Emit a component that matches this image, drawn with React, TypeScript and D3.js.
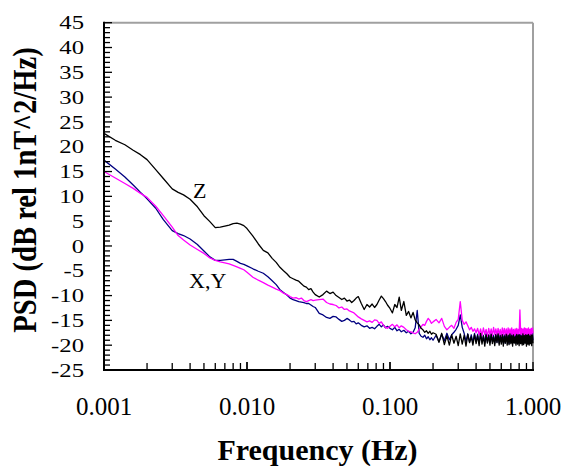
import React from "react";
import * as d3 from "d3";

const FREQ: number[] = [
  0.001, 0.0012, 0.0014, 0.0016, 0.0018, 0.002, 0.0023, 0.0026, 0.003, 0.0033, 0.0036, 0.004,
  0.0045, 0.005, 0.0055, 0.006, 0.0065, 0.007, 0.0075, 0.008, 0.0085, 0.009, 0.0095, 0.01,
  0.011, 0.012, 0.013, 0.014, 0.015, 0.016, 0.017, 0.018, 0.019, 0.02,
  0.021, 0.022, 0.023, 0.024, 0.025, 0.026, 0.027, 0.028, 0.029, 0.03, 0.032, 0.034, 0.036,
  0.038, 0.04, 0.042, 0.044, 0.046, 0.048, 0.05, 0.052, 0.054, 0.056, 0.058, 0.06, 0.063,
  0.066, 0.069, 0.072, 0.075, 0.078, 0.081, 0.084, 0.087, 0.09, 0.093, 0.096, 0.1, 0.104,
  0.108, 0.112, 0.116, 0.12, 0.125, 0.13, 0.135, 0.14, 0.145, 0.15, 0.155, 0.16, 0.165, 0.17,
  0.175, 0.18, 0.185, 0.19, 0.195, 0.2,
  0.21, 0.22, 0.23, 0.24, 0.25, 0.26, 0.27, 0.28, 0.29, 0.3, 0.31, 0.32, 0.33, 0.34, 0.35,
  0.36, 0.37, 0.38, 0.39, 0.4, 0.41, 0.42, 0.43, 0.44, 0.45, 0.46, 0.47, 0.48, 0.49, 0.5,
  0.51, 0.52, 0.53, 0.54, 0.55, 0.56, 0.57, 0.58, 0.59, 0.6, 0.61, 0.62, 0.63, 0.64, 0.65,
  0.66, 0.67, 0.68, 0.69, 0.7, 0.71, 0.72, 0.73, 0.74, 0.75, 0.76, 0.77, 0.78, 0.79, 0.8,
  0.81, 0.82, 0.83, 0.84, 0.85, 0.86, 0.87, 0.88, 0.89, 0.9, 0.91, 0.92, 0.93, 0.94, 0.95,
  0.96, 0.97, 0.98, 0.99, 1.0,
];

const Z_PSD: number[] = [
  22.7, 21.3, 20.4, 19.3, 18.4, 17.4, 15.4, 13.6, 11.5, 10.8, 10.3, 9.4,
  7.9, 6.1, 4.9, 3.7, 3.8, 4.0, 4.2, 4.5, 4.6, 4.4, 4.1, 3.5,
  2.0, 0.4, -0.9, -1.4, -2.5, -3.3, -4.3, -5.0, -5.6, -6.3,
  -6.6, -6.9, -7.1, -7.6, -8.1, -8.3, -8.8, -8.6, -9.3, -9.8, -10.3, -9.8, -9.1,
  -9.6, -9.3, -10.0, -10.4, -10.8, -10.5, -11.1, -10.9, -11.4, -11.0, -10.5, -10.2, -11.6,
  -12.8, -11.8, -12.3, -11.7, -12.4, -11.8, -10.9, -10.1, -10.6, -11.2, -11.9, -12.6, -13.5,
  -11.8, -12.4, -10.3, -13.0, -11.2, -14.0, -13.2, -14.5, -13.4, -14.9, -15.5, -15.9, -16.6, -16.9,
  -17.4, -17.1, -17.6, -17.2, -17.8, -17.5,
  -17.8, -19.4, -17.6, -19.9, -18.1, -20.0, -17.9, -19.6, -18.2, -20.1,
  -17.7, -19.8, -18.0, -20.2, -17.8, -19.5, -18.3, -20.0, -17.9, -19.7,
  -18.1, -20.1, -17.6, -19.8, -18.2, -20.2, -17.9, -19.6, -18.0, -20.0,
  -17.8, -19.7, -18.3, -20.1, -17.9, -19.5, -17.7, -20.0, -18.1, -19.8,
  -17.9, -20.2, -18.2, -19.6, -17.8, -20.0, -18.0, -19.9, -17.7, -19.7,
  -18.1, -20.2, -17.9, -19.6, -18.3, -20.0, -17.8, -19.8, -18.0, -20.1,
  -17.9, -19.7, -18.2, -20.0, -17.7, -19.9, -18.1, -19.6, -17.9, -20.2,
  -18.0, -19.8, -17.8, -20.0, -18.2, -19.7, -17.9, -20.1, -18.0, -19.6,
];

const X_PSD: number[] = [
  17.3, 15.5, 13.9, 12.3, 10.8, 9.5, 7.6, 5.3, 3.1, 2.5, 2.1, 1.4,
  0.3, -1.0, -2.2, -2.9, -2.9, -2.8, -2.7, -2.7, -3.1, -3.5, -3.7, -4.0,
  -4.6, -5.1, -5.5, -6.2, -7.0, -7.8, -8.8, -9.4, -9.9, -10.5,
  -10.8, -11.0, -11.2, -11.3, -11.4, -11.6, -11.6, -11.9, -12.2, -12.4, -13.6, -13.9, -14.4,
  -14.6, -14.2, -14.3, -14.8, -15.2, -15.0, -14.6, -14.9, -15.3, -15.2, -15.7, -15.5, -16.0,
  -16.3, -16.1, -16.6, -16.4, -16.7, -16.2, -15.8, -16.3, -15.9, -16.5, -16.2, -16.6, -16.9,
  -16.4, -17.1, -16.8, -17.3, -17.0, -17.5, -17.2, -17.7, -17.4, -16.5, -13.0, -17.6, -18.2, -18.4,
  -18.0, -18.7, -18.3, -18.9, -18.5, -19.0,
  -18.0, -19.3, -17.8, -19.1, -17.6, -18.9, -17.9, -17.4, -16.8, -16.0,
  -13.9, -16.4, -17.6, -19.2, -17.7, -19.4, -17.9, -19.5, -17.6, -19.2,
  -17.8, -19.6, -17.7, -19.3, -18.0, -19.6, -17.6, -19.4, -17.9, -19.5,
  -17.7, -19.3, -18.0, -19.6, -17.8, -19.4, -17.7, -19.6, -17.9, -19.2,
  -17.8, -19.5, -17.9, -19.6, -17.6, -19.3, -18.0, -19.7, -17.8, -19.4,
  -17.6, -19.5, -18.0, -19.3, -17.8, -19.6, -17.9, -19.4, -17.7, -19.5,
  -17.8, -19.3, -18.0, -19.6, -17.7, -19.4, -17.9, -19.5, -17.8, -19.2,
  -17.6, -19.5, -17.9, -19.3, -17.8, -19.6, -18.0, -19.4, -17.4, -19.0,
];

const Y_PSD: number[] = [
  15.0, 13.7, 12.6, 11.6, 10.6, 9.8, 8.0, 6.1, 3.8, 2.1, 1.2, 0.2,
  -0.7, -1.5, -2.4, -2.9, -3.2, -3.4, -3.6, -3.9, -4.2, -4.5, -4.8, -5.3,
  -6.3, -6.9, -7.4, -7.9, -8.3, -8.7, -9.0, -9.5, -9.8, -10.2,
  -10.5, -10.4, -10.7, -10.5, -11.0, -11.2, -11.0, -10.8, -11.0, -10.9, -10.8, -10.7, -11.4,
  -11.7, -11.8, -12.0, -12.5, -12.3, -12.8, -12.7, -13.1, -13.3, -13.5, -13.9, -14.3, -14.7,
  -15.0, -15.3, -15.1, -15.4, -14.9, -15.0, -15.6, -15.3, -16.0, -16.4, -16.6, -16.2, -15.8,
  -16.3, -15.9, -16.5, -16.1, -16.4, -16.9, -17.2, -17.3, -17.5, -17.7, -17.4, -16.8, -16.3, -15.8,
  -16.0, -15.2, -14.6, -15.0, -15.6, -15.3,
  -14.8, -15.5, -14.6, -16.2, -16.9, -16.4, -16.0, -16.6, -15.4, -14.8,
  -11.2, -15.0, -15.8, -15.3, -16.1, -16.9, -16.4, -17.2, -16.7, -17.5,
  -16.6, -17.9, -16.7, -18.1, -16.5, -17.8, -16.8, -18.2, -16.6, -17.9,
  -16.7, -18.1, -16.4, -17.8, -16.7, -18.0, -16.6, -17.9, -16.8, -18.2,
  -16.5, -17.9, -16.6, -18.0, -16.7, -18.1, -16.5, -17.8, -16.7, -18.0,
  -16.5, -17.9, -16.8, -18.2, -16.7, -17.9, -16.6, -18.0, -16.8, -17.7,
  -12.9, -17.8, -16.6, -18.0, -16.7, -17.9, -16.5, -18.1, -16.6, -17.8,
  -16.7, -18.0, -16.5, -17.9, -16.8, -18.1, -16.6, -17.9, -16.5, -17.6,
];

const Y_TICKS: number[] = [45, 40, 35, 30, 25, 20, 15, 10, 5, 0, -5, -10, -15, -20, -25];
const X_TICKS: number[] = [0.001, 0.01, 0.1, 1.0];
const X_TICK_LABELS: string[] = ["0.001", "0.010", "0.100", "1.000"];
const SERIES_NAMES: string[] = ["X", "Y", "Z"];
const SERIES_COLORS: string[] = ["#000080", "#FF00FF", "#000000"];

export default function App() {
  const W = 563;
  const H = 466;
  const left = 104;
  const right = 533;
  const top = 22.7;
  const bottom = 370;

  const x = d3.scaleLog().domain([0.001, 1]).range([left, right]);
  const y = d3.scaleLinear().domain([-25, 45]).range([bottom, top]);

  const seriesValues = [X_PSD, Y_PSD, Z_PSD];
  const line = d3
    .line<[number, number]>()
    .x((d) => x(d[0]))
    .y((d) => y(d[1]));

  const minorY = d3.range(-25, 46, 1);
  const minorX: number[] = [];
  [0.001, 0.01, 0.1].forEach((dec) => {
    for (let k = 1; k <= 10; k++) minorX.push(dec * k);
  });

  const serif = "'Liberation Serif', 'Times New Roman', Times, serif";

  return (
    <svg
      width={W}
      height={H}
      style={{ position: "absolute", left: 0, top: 0, background: "#fff" }}
      fontFamily={serif}
    >
      <rect x={0} y={0} width={W} height={H} fill="#fff" />
      {/* top & right frame */}
      <line x1={left} x2={right} y1={top} y2={top} stroke="#a0a0a0" strokeWidth={2} />
      <line x1={right} x2={right} y1={top} y2={bottom} stroke="#a0a0a0" strokeWidth={2} />

      {/* series */}
      {seriesValues.map((vals, i) => {
        const pts: [number, number][] = FREQ.map((f, j) => [f, vals[j]]);
        return (
          <path
            key={SERIES_NAMES[i]}
            d={line(pts) || ""}
            fill="none"
            stroke={SERIES_COLORS[i]}
            strokeWidth={1.3}
            strokeLinejoin="round"
          />
        );
      })}

      {/* y ticks */}
      {minorY.map((v) => {
        const major = v % 5 === 0;
        return (
          <line
            key={"yt" + v}
            x1={left}
            x2={left + (major ? 8 : 6)}
            y1={y(v)}
            y2={y(v)}
            stroke="#000"
            strokeWidth={1.3}
          />
        );
      })}
      {/* x ticks */}
      {minorX.map((f, i) => {
        const lg = Math.log10(f);
        const major = Math.abs(lg - Math.round(lg)) < 1e-6;
        return (
          <line
            key={"xt" + i}
            x1={x(f)}
            x2={x(f)}
            y1={bottom}
            y2={bottom - (major ? 8 : 7)}
            stroke="#000"
            strokeWidth={1.3}
          />
        );
      })}

      {/* axes */}
      <line x1={left} x2={left} y1={top - 1} y2={bottom + 1} stroke="#000" strokeWidth={2} />
      <line x1={left - 1} x2={right + 1} y1={bottom} y2={bottom} stroke="#000" strokeWidth={2} />

      {/* y labels */}
      {Y_TICKS.map((v) => (
        <text
          key={"yl" + v}
          transform={`translate(84,${y(v) + 6.6}) scale(1.3,1)`}
          textAnchor="end"
          fontSize={19}
          fill="#000"
        >
          {String(v)}
        </text>
      ))}

      {/* x labels */}
      {X_TICKS.map((f, i) => (
        <text key={"xl" + i} x={x(f)} y={415} textAnchor="middle" fontSize={25} fill="#000">
          {X_TICK_LABELS[i]}
        </text>
      ))}

      {/* axis titles */}
      <text x={317.5} y={460} textAnchor="middle" fontSize={30} fontWeight="bold" fill="#000">
        Frequency (Hz)
      </text>
      <text
        transform="translate(36,190) rotate(-90) scale(1,1.2)"
        textAnchor="middle"
        fontSize={28.6}
        fontWeight="bold"
        fill="#000"
      >
        PSD (dB rel 1nT^2/Hz)
      </text>

      {/* series annotations */}
      <text x={193} y={198} fontSize={22} fill="#000">Z</text>
      <text x={189} y={288} fontSize={22} fill="#000">X,Y</text>
    </svg>
  );
}
